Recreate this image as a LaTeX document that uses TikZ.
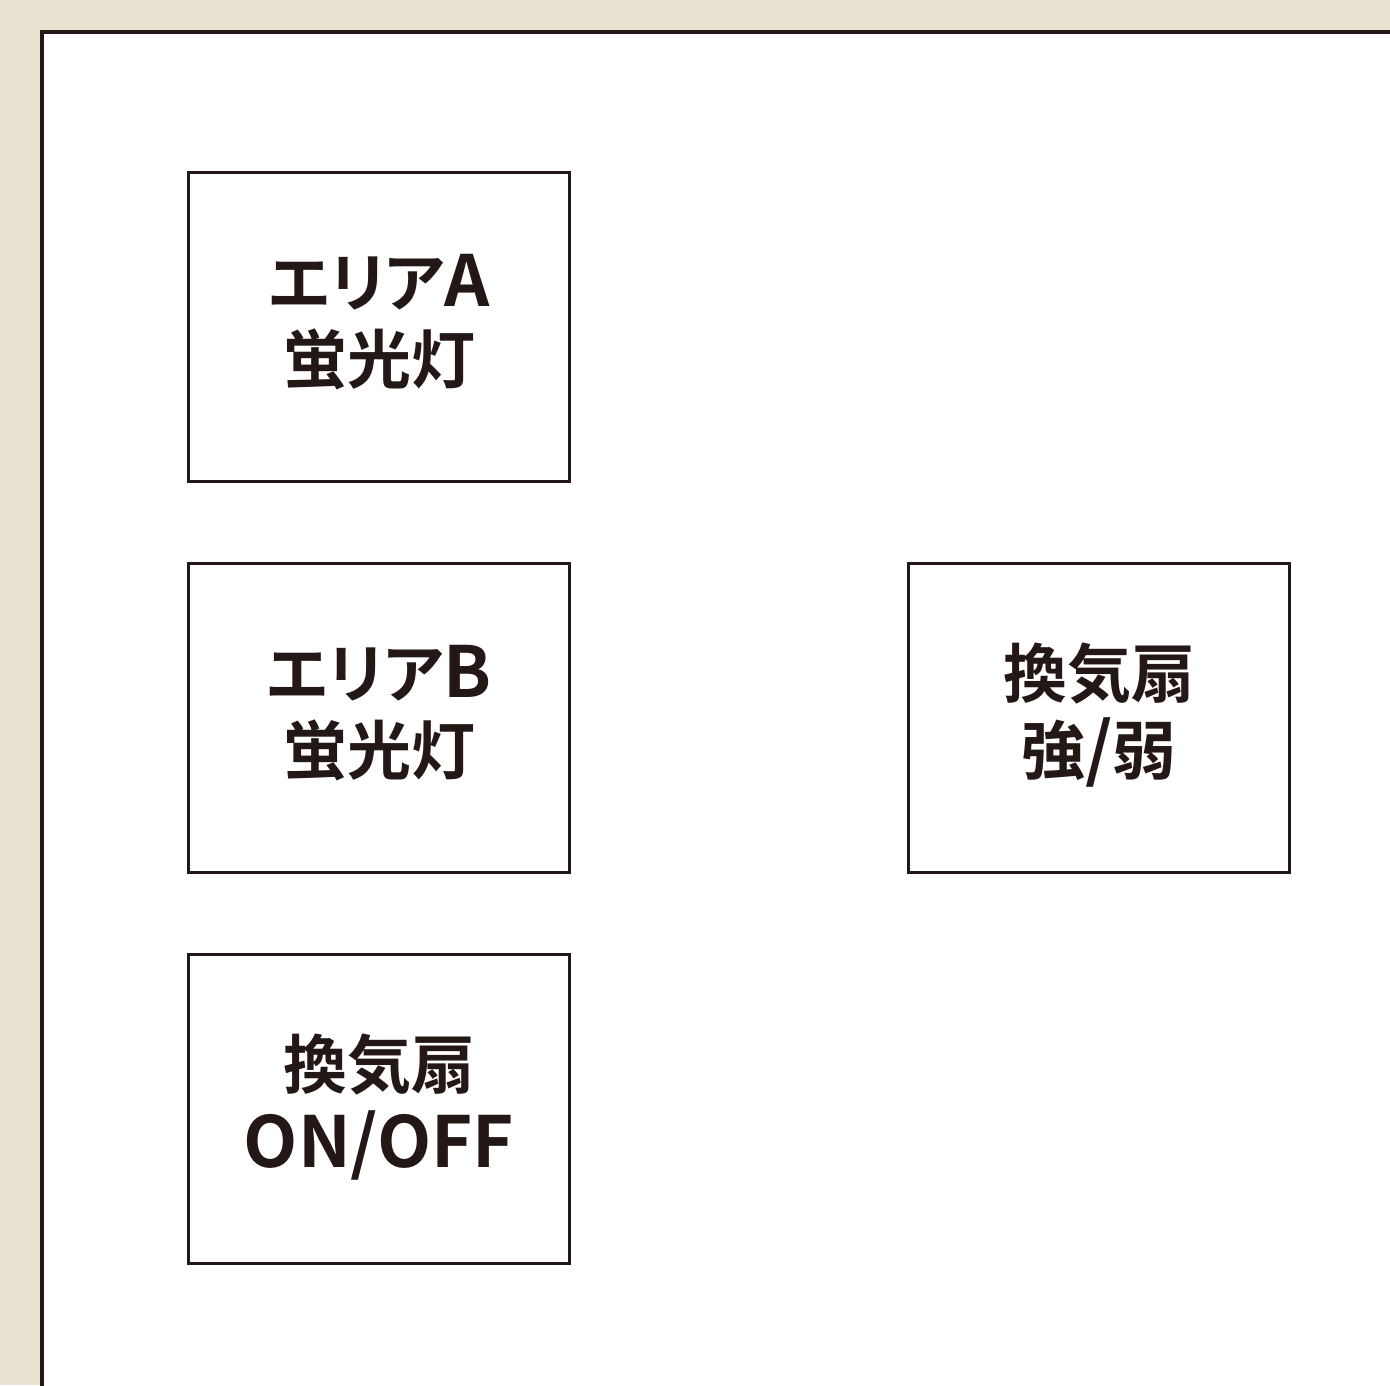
\documentclass[tikz,border=0pt]{standalone}
\usepackage{fontspec}
\newfontfamily\jp[RawFeature=+palt]{Noto Sans CJK JP Bold}
\newcommand\lt[1]{{\fontsize{70.5}{77}\selectfont #1}}
\definecolor{ink}{HTML}{231815}
\definecolor{beige}{HTML}{E8E2D0}
\begin{document}
\begin{tikzpicture}[x=1pt,y=-1pt,
  panel/.style={draw=ink,line width=4pt,fill=white},
  switchbox/.style={draw=ink,line width=2.6pt,fill=white,minimum width=381pt,minimum height=309pt,inner sep=0pt},
  label/.style={text=ink,align=center,inner sep=0pt,font=\jp\fontsize{64}{77}\selectfont}]
\useasboundingbox (0,0) rectangle (1390,1385);
\clip (0,0) rectangle (1390,1385);
\fill[beige] (0,0) rectangle (1390,1385);
\draw[panel] (42,32) rectangle (1420,1420);
\node[switchbox] (a) at (379,327) {};
\node[label] (at) at (379,322) {エリア\lt{A}\\蛍光灯};
\node[switchbox] (b) at (379,718) {};
\node[label] (bt) at (379,713) {エリア\lt{B}\\蛍光灯};
\node[switchbox] (c) at (379,1109) {};
\node[label] (ct) at (379,1107) {換気扇\\[2pt]\lt{ON/OFF}};
\node[switchbox] (d) at (1099,718) {};
\node[label] (dt) at (1099,715) {換気扇\\強\lt{/}弱};
\end{tikzpicture}
\end{document}
